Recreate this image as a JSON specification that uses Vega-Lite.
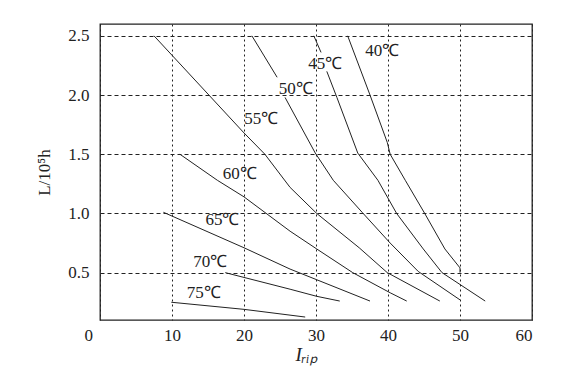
{
  "$schema": "https://vega.github.io/schema/vega-lite/v6.json",
  "width": 432,
  "height": 296,
  "autosize": "none",
  "padding": {"left": 100, "top": 24, "right": 50, "bottom": 65},
  "background": "white",
  "config": {
    "view": {"stroke": "#222", "strokeWidth": 1.3},
    "font": "Liberation Serif",
    "axis": {
      "labelFont": "Liberation Serif",
      "labelFontSize": 17,
      "labelColor": "#222",
      "titleFont": "Liberation Serif",
      "titleFontSize": 17,
      "titleFontWeight": "normal",
      "titleColor": "#222",
      "ticks": false,
      "domain": false,
      "gridColor": "#222",
      "gridOpacity": 1,
      "gridWidth": 1
    }
  },
  "datasets": {
    "lines": [
      {"T": "40", "seg": "40", "o": 1, "I": 34.4, "L": 2.5},
      {"T": "40", "seg": "40", "o": 2, "I": 37.5, "L": 2.0},
      {"T": "40", "seg": "40", "o": 3, "I": 39.9, "L": 1.6},
      {"T": "40", "seg": "40", "o": 4, "I": 40.3, "L": 1.5},
      {"T": "40", "seg": "40", "o": 5, "I": 42.4, "L": 1.28},
      {"T": "40", "seg": "40", "o": 6, "I": 45.1, "L": 1.0},
      {"T": "40", "seg": "40", "o": 7, "I": 47.9, "L": 0.7},
      {"T": "40", "seg": "40", "o": 8, "I": 50.0, "L": 0.54},
      {"T": "40", "seg": "40", "o": 9, "I": 50.0, "L": 0.5},
      {"T": "45", "seg": "45a", "o": 1, "I": 29.7, "L": 2.5},
      {"T": "45", "seg": "45a", "o": 2, "I": 30.7, "L": 2.36},
      {"T": "45", "seg": "45b", "o": 3, "I": 31.5, "L": 2.2},
      {"T": "45", "seg": "45b", "o": 4, "I": 32.9, "L": 1.98},
      {"T": "45", "seg": "45b", "o": 5, "I": 35.8, "L": 1.51},
      {"T": "45", "seg": "45b", "o": 6, "I": 38.6, "L": 1.28},
      {"T": "45", "seg": "45b", "o": 7, "I": 41.2, "L": 1.0},
      {"T": "45", "seg": "45b", "o": 8, "I": 44.9, "L": 0.7},
      {"T": "45", "seg": "45b", "o": 9, "I": 47.5, "L": 0.5},
      {"T": "45", "seg": "45b", "o": 10, "I": 53.5, "L": 0.26},
      {"T": "50", "seg": "50a", "o": 1, "I": 21.1, "L": 2.5},
      {"T": "50", "seg": "50a", "o": 2, "I": 24.6, "L": 2.15},
      {"T": "50", "seg": "50b", "o": 3, "I": 25.7, "L": 1.98},
      {"T": "50", "seg": "50b", "o": 4, "I": 29.9, "L": 1.51},
      {"T": "50", "seg": "50b", "o": 5, "I": 32.4, "L": 1.28},
      {"T": "50", "seg": "50b", "o": 6, "I": 36.4, "L": 1.01},
      {"T": "50", "seg": "50b", "o": 7, "I": 40.3, "L": 0.75},
      {"T": "50", "seg": "50b", "o": 8, "I": 44.2, "L": 0.51},
      {"T": "50", "seg": "50b", "o": 9, "I": 50.0, "L": 0.27},
      {"T": "55", "seg": "55", "o": 1, "I": 7.5, "L": 2.5},
      {"T": "55", "seg": "55", "o": 2, "I": 20.0, "L": 1.68},
      {"T": "55", "seg": "55", "o": 3, "I": 22.9, "L": 1.5},
      {"T": "55", "seg": "55", "o": 4, "I": 26.4, "L": 1.22},
      {"T": "55", "seg": "55", "o": 5, "I": 30.1, "L": 1.0},
      {"T": "55", "seg": "55", "o": 6, "I": 36.0, "L": 0.71},
      {"T": "55", "seg": "55", "o": 7, "I": 39.9, "L": 0.5},
      {"T": "55", "seg": "55", "o": 8, "I": 47.2, "L": 0.26},
      {"T": "60", "seg": "60", "o": 1, "I": 11.1, "L": 1.5},
      {"T": "60", "seg": "60", "o": 2, "I": 16.3, "L": 1.28},
      {"T": "60", "seg": "60", "o": 3, "I": 20.0, "L": 1.14},
      {"T": "60", "seg": "60", "o": 4, "I": 26.4, "L": 0.85},
      {"T": "60", "seg": "60", "o": 5, "I": 30.1, "L": 0.7},
      {"T": "60", "seg": "60", "o": 6, "I": 35.1, "L": 0.5},
      {"T": "60", "seg": "60", "o": 7, "I": 40.3, "L": 0.33},
      {"T": "60", "seg": "60", "o": 8, "I": 42.6, "L": 0.26},
      {"T": "65", "seg": "65", "o": 1, "I": 8.8, "L": 1.01},
      {"T": "65", "seg": "65", "o": 2, "I": 20.0, "L": 0.71},
      {"T": "65", "seg": "65", "o": 3, "I": 26.4, "L": 0.53},
      {"T": "65", "seg": "65", "o": 4, "I": 30.1, "L": 0.44},
      {"T": "65", "seg": "65", "o": 5, "I": 37.5, "L": 0.26},
      {"T": "70", "seg": "70", "o": 1, "I": 17.4, "L": 0.5},
      {"T": "70", "seg": "70", "o": 2, "I": 26.4, "L": 0.36},
      {"T": "70", "seg": "70", "o": 3, "I": 30.1, "L": 0.3},
      {"T": "70", "seg": "70", "o": 4, "I": 33.3, "L": 0.26},
      {"T": "75", "seg": "75", "o": 1, "I": 9.9, "L": 0.25},
      {"T": "75", "seg": "75", "o": 2, "I": 20.0, "L": 0.19},
      {"T": "75", "seg": "75", "o": 3, "I": 28.5, "L": 0.125}
    ],
    "labels": [
      {"text": "40℃", "I": 39.2, "L": 2.37},
      {"text": "45℃", "I": 31.3, "L": 2.26},
      {"text": "50℃", "I": 27.2, "L": 2.05},
      {"text": "55℃", "I": 22.4, "L": 1.8},
      {"text": "60℃", "I": 19.4, "L": 1.33},
      {"text": "65℃", "I": 17.0, "L": 0.945},
      {"text": "70℃", "I": 15.3, "L": 0.59},
      {"text": "75℃", "I": 14.4, "L": 0.33}
    ]
  },
  "layer": [
    {
      "data": {"name": "lines"},
      "mark": {"type": "line", "color": "#222", "strokeWidth": 1, "clip": true},
      "encoding": {
        "x": {
          "field": "I", "type": "quantitative",
          "scale": {"domain": [0, 60], "nice": false},
          "axis": {
            "values": [0, 10, 20, 30, 40, 50, 60],
            "grid": true,
            "gridDash": [2, 3],
            "labelPadding": 7,
            "labelOffset": {"condition": {"test": "datum.value === 0", "value": -16}, "value": 0},
            "title": "Iᵣᵢₚ",
            "titleFontStyle": "italic",
            "titleFontSize": 19,
            "titlePadding": 2,
            "titleX": 206,
            "titleAlign": "center"
          }
        },
        "y": {
          "field": "L", "type": "quantitative",
          "scale": {"domain": [0.1, 2.6], "nice": false, "zero": false},
          "axis": {
            "values": [0.5, 1.0, 1.5, 2.0, 2.5],
            "format": ".1f",
            "grid": true,
            "gridDash": [4, 3],
            "labelPadding": 11,
            "title": "L/10⁵h",
            "titlePadding": 14
          }
        },
        "detail": {"field": "seg"},
        "order": {"field": "o"}
      }
    },
    {
      "data": {"name": "labels"},
      "mark": {"type": "text", "font": "Liberation Serif", "fontSize": 17, "color": "#222"},
      "encoding": {
        "x": {"field": "I", "type": "quantitative"},
        "y": {"field": "L", "type": "quantitative"},
        "text": {"field": "text"}
      }
    }
  ]
}
